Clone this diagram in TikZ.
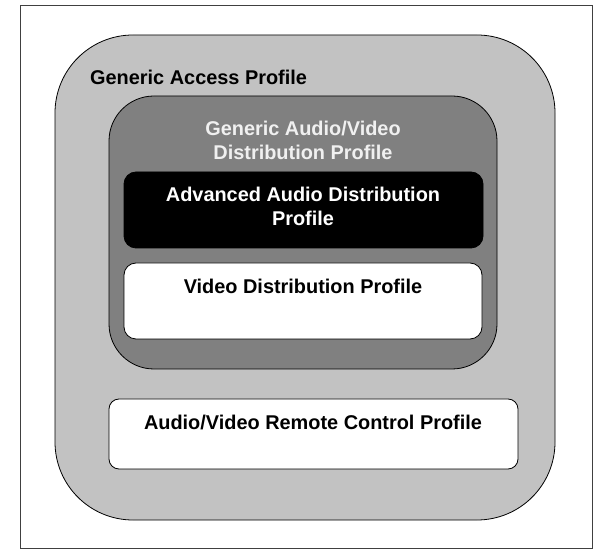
\documentclass[tikz,border=0pt]{standalone}
\usepackage{fontspec}
\setmainfont{Liberation Sans}
\begin{document}
\begin{tikzpicture}[x=1pt,y=1pt,
  lbl/.style={font=\bfseries\fontsize{19.9}{24}\selectfont, inner sep=0pt, align=center},
  boxline/.style={draw=black, line width=0.8pt}]
\useasboundingbox (0,0) rectangle (605,557);
\fill[white] (0,0) rectangle (605,557);
\draw[draw=black!75, line width=1pt] (20,9) rectangle (592,551);
% Generic Access Profile
\draw[boxline, fill=black!24, rounded corners=78pt] (55,37) rectangle (555,522);
\node[lbl, anchor=base west] (gap) at (90,472) {Generic Access Profile};
% GAVDP
\draw[boxline, fill=black!50, rounded corners=45pt] (109,188) rectangle (497,461);
\node[lbl, text=black!6] (gavdp) at (303,417) {Generic Audio/Video\\Distribution Profile};
% A2DP
\draw[boxline, fill=black, rounded corners=12pt] (124,309) rectangle (483,385);
\node[lbl, text=white] (a2dp) at (303,351) {Advanced Audio Distribution\\Profile};
% VDP
\draw[boxline, fill=white, rounded corners=12pt] (124,218) rectangle (482,294);
\node[lbl] (vdp) at (303,271) {Video Distribution Profile};
% AVRCP
\draw[boxline, fill=white, rounded corners=10pt] (109,88) rectangle (518,158);
\node[lbl] (avrcp) at (313,135) {Audio/Video Remote Control Profile};
\end{tikzpicture}
\end{document}
